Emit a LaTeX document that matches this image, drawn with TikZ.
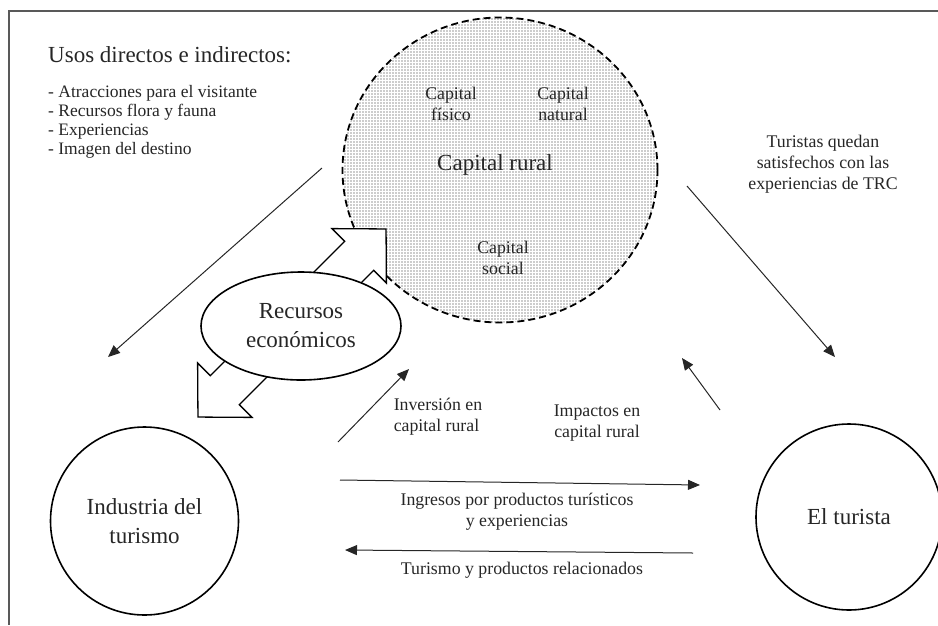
\documentclass[tikz,border=0pt]{standalone}
\usepackage{fontspec}
\setmainfont{Liberation Serif}
\usetikzlibrary{shapes.geometric,arrows.meta,patterns}
\newcommand{\grande}{\fontsize{23}{29}\selectfont}
\newcommand{\chico}{\fontsize{17.8}{21}\selectfont}
\pgfdeclarepatternformonly{puntos}{\pgfqpoint{-1pt}{-1pt}}{\pgfqpoint{1pt}{1pt}}{\pgfqpoint{3pt}{3pt}}{%
  \pgfpathcircle{\pgfqpoint{0pt}{0pt}}{.62pt}\pgfusepath{fill}}

\begin{document}
\begin{tikzpicture}[x=1pt, y=-1pt,
    main node/.style={circle, draw, line width=1.6pt, minimum size=188pt, inner sep=0pt, align=center, font=\grande},
    flecha/.style={-{Triangle[length=12pt,width=10pt]}, line width=1pt, draw=black!85}]
  \tikzstyle{every node}=[font=\chico, text=black!85]
  \useasboundingbox (0,0) rectangle (938,625);
  \draw[black!65, line width=1.4pt] (938,11) -- (9,11) -- (9,625);

  % capital rural
  \node[ellipse, draw, dash pattern=on 7pt off 4pt, line width=1.8pt, pattern=puntos, pattern color=black!85,
        minimum width=315pt, minimum height=305pt, inner sep=0pt] (1) at (500,170) {};
  \node[font=\grande] (1a) at (495,165) {Capital rural};
  \node[align=center] (1b) at (451,104) {Capital\\físico};
  \node[align=center] (1c) at (563,104) {Capital\\natural};
  \node[align=center] (1d) at (503,258) {Capital\\social};

  % recursos economicos
  \begin{scope}[shift={(292,323)}, rotate=45]
    \draw[line width=1.3pt, fill=white] (133,0) -- (95,38.5) -- (95,20.5) -- (-95,20.5) -- (-95,38.5)
      -- (-133,0) -- (-95,-38.5) -- (-95,-20.5) -- (95,-20.5) -- (95,-38.5) -- cycle;
  \end{scope}
  \node[ellipse, draw, fill=white, line width=1.6pt, minimum width=200pt, minimum height=108pt,
        inner sep=0pt, align=center, font=\grande] (2) at (301,326) {Recursos\\económicos};

  \node[main node] (3) at (144.5,521) {Industria del\\turismo};
  \node[main node, minimum size=186pt] (4) at (849,517) {El turista};

  % usos
  \node[anchor=base west, inner sep=0pt, font=\grande] (5) at (48,62) {Usos directos e indirectos:};
  \node[anchor=north west, inner sep=0pt, align=left, font=\fontsize{17.5}{19}\selectfont] (6) at (48,85)
    {- Atracciones para el visitante\\- Recursos flora y fauna\\- Experiencias\\- Imagen del destino};

  % etiquetas
  \node[align=center] (7) at (823,164) {Turistas quedan\\satisfechos con las\\experiencias de TRC};
  \node[align=left] (8) at (438,417) {Inversión en\\capital rural};
  \node[align=center] (9) at (597,423) {Impactos en\\capital rural};
  \node[align=center] (10) at (517,512) {Ingresos por productos turísticos\\y experiencias};
  \node (11) at (522,570) {Turismo y productos relacionados};

  % flechas
  \coordinate (u1) at (322,168);  \coordinate (u2) at (108,357);
  \coordinate (t1) at (687,186);  \coordinate (t2) at (835,357);
  \coordinate (i1) at (338,442);  \coordinate (i2) at (409,369);
  \coordinate (m1) at (720,410);  \coordinate (m2) at (682,358);
  \coordinate (g1) at (340,480);  \coordinate (g2) at (700,485);
  \coordinate (p1) at (693,553);  \coordinate (p2) at (345,550);
  \draw[flecha] (u1) -- (u2);
  \draw[flecha] (t1) -- (t2);
  \draw[flecha] (i1) -- (i2);
  \draw[flecha] (m1) -- (m2);
  \draw[flecha] (g1) -- (g2);
  \draw[flecha] (p1) -- (p2);
\end{tikzpicture}
\end{document}
